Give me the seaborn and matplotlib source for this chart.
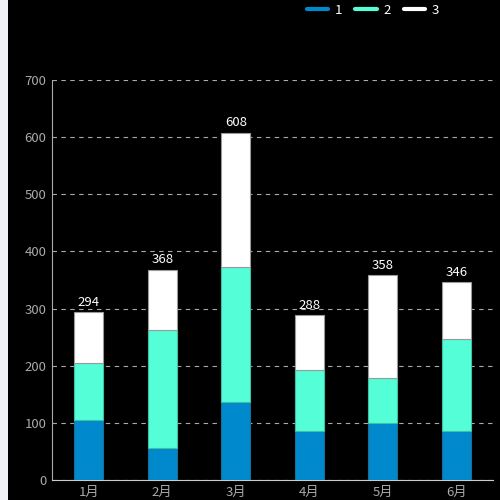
import matplotlib
matplotlib.use("Agg")
import matplotlib.pyplot as plt
from matplotlib.lines import Line2D
from matplotlib.patches import Rectangle
import numpy as np
import pandas as pd
import seaborn as sns

months = ["1月", "2月", "3月", "4月", "5月", "6月"]
series_names = ["1", "2", "3"]
s1 = [105, 56, 136, 86, 99, 86]
s2 = [99, 206, 236, 106, 80, 160]
s3 = [90, 106, 236, 96, 179, 100]
totals = [294, 368, 608, 288, 358, 346]

colors = ["#008acd", "#54ffd8", "#ffffff"]
edges = ["#1c6d96", "#3fbfa3", "#9a9a9a"]
y_ticks = [0, 100, 200, 300, 400, 500, 600, 700]

sns.set_theme(style="dark")
plt.rcParams["font.family"] = ["Noto Sans CJK SC", "DejaVu Sans"]

fig = plt.figure(figsize=(5, 5), dpi=100, facecolor="black")
fig.patches.append(Rectangle((0, 0), 8 / 500, 1, transform=fig.transFigure,
                             facecolor="#f0f2f8", edgecolor="none", zorder=0))
ax = fig.add_axes([52 / 500, 20 / 500, 441 / 500, 400 / 500])
ax.set_facecolor("black")

df = pd.DataFrame({"month": months, "s1": s1, "s2": s2, "s3": s3})
bottom = np.zeros(len(months))
for col, c, e in zip(["s1", "s2", "s3"], colors, edges):
    sns.barplot(data=df, x="month", y=col, color=c, width=0.4, bottom=bottom,
                edgecolor=e, linewidth=0.8, saturation=1, ax=ax, zorder=3)
    bottom = bottom + df[col].to_numpy()

for i, t in enumerate(totals):
    ax.text(i, t + 6, str(t), ha="center", va="bottom", color="white", fontsize=9.5)

ax.set_ylim(0, 700)
ax.set_xlim(-0.5, len(months) - 0.5)
ax.set_yticks(y_ticks)
ax.grid(axis="y", color="#aaaaaa", linestyle=(0, (4, 4)), linewidth=0.8, zorder=0)
ax.grid(axis="x", visible=False)
ax.set_xlabel("")
ax.set_ylabel("")
ax.tick_params(axis="both", colors="#aaaaaa", labelsize=9.5, length=0, pad=4)
for side in ["top", "right"]:
    ax.spines[side].set_visible(False)
ax.spines["left"].set_color("#aaaaaa")
ax.spines["bottom"].set_color("#cccccc")
ax.spines["left"].set_linewidth(0.8)
ax.spines["bottom"].set_linewidth(0.8)

handles = [Line2D([0], [0], color=c, linewidth=3) for c in colors]
leg = fig.legend(handles, series_names, loc="center", bbox_to_anchor=(373 / 500, 1 - 10 / 500),
                 ncol=3, frameon=False, handlelength=1.6, handletextpad=0.5,
                 columnspacing=1.0, fontsize=9.5)
for txt in leg.get_texts():
    txt.set_color("white")

fig.savefig("out.png", dpi=100, facecolor=fig.get_facecolor())
